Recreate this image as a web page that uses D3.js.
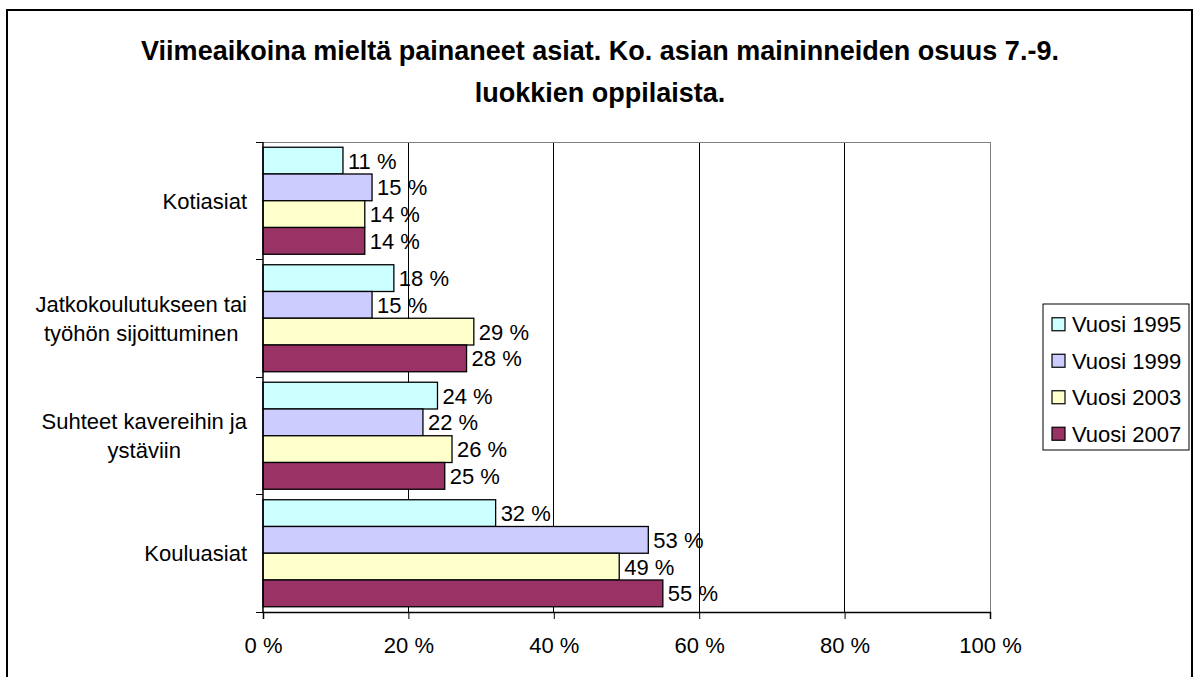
<!DOCTYPE html>
<html>
<head>
<meta charset="utf-8">
<script src="https://cdn.jsdelivr.net/npm/d3@7"></script>
<style>
  html, body { margin: 0; padding: 0; background: #fff; }
  svg { display: block; }
  text { font-family: Arial, "Liberation Sans", sans-serif; fill: #000; }
</style>
</head>
<body>
<svg id="chart" width="1196" height="677"></svg>
<script>
const titleLines = ["Viimeaikoina mieltä painaneet asiat. Ko. asian maininneiden osuus 7.-9.", "luokkien oppilaista."];
const categories = ["Kotiasiat", "Jatkokoulutukseen tai\ntyöhön sijoittuminen", "Suhteet kavereihin ja\nystäviin", "Kouluasiat"];
const seriesNames = ["Vuosi 1995", "Vuosi 1999", "Vuosi 2003", "Vuosi 2007"];
const seriesColors = ["#CCFFFF", "#CCCCFF", "#FFFFCC", "#993366"];
const v1995 = [11, 18, 24, 32];
const v1999 = [15, 15, 22, 53];
const v2003 = [14, 29, 26, 49];
const v2007 = [14, 28, 25, 55];
const xTicks = [0, 20, 40, 60, 80, 100];

const seriesValues = [v1995, v1999, v2003, v2007];
const FONT = 22;

const svg = d3.select("#chart");

// outer frame
svg.append("rect").attr("x", 7).attr("y", 10).attr("width", 1185).attr("height", 680)
  .attr("fill", "#fff").attr("stroke", "#000").attr("stroke-width", 2);

// title
svg.append("g").selectAll("text").data(titleLines).join("text")
  .attr("x", 600).attr("y", (d, i) => 60 + i * 42)
  .attr("text-anchor", "middle").attr("font-weight", "bold").attr("font-size", 27)
  .text(d => d);

const plot = { left: 263, right: 990, top: 142, bottom: 612 };

const x = d3.scaleLinear().domain([0, 100]).range([plot.left, plot.right]);
const y = d3.scaleBand().domain(categories).range([plot.top, plot.bottom]).padding(0);
const yInner = d3.scaleBand().domain(seriesNames).range([0, y.bandwidth()]).paddingInner(0).paddingOuter(0.196);

// gridlines
svg.append("g").selectAll("line").data(xTicks.filter(t => t > 0 && t < 100)).join("line")
  .attr("x1", d => x(d)).attr("x2", d => x(d))
  .attr("y1", plot.top).attr("y2", plot.bottom)
  .attr("stroke", "#000").attr("stroke-width", 1).attr("shape-rendering", "crispEdges");

// plot border (top & right gray)
svg.append("path")
  .attr("d", `M${plot.left},${plot.top}H${plot.right}V${plot.bottom}`)
  .attr("fill", "none").attr("stroke", "#808080").attr("stroke-width", 1).attr("shape-rendering", "crispEdges");

// bars
const groups = svg.append("g").selectAll("g").data(categories).join("g")
  .attr("transform", d => `translate(0,${y(d)})`);

groups.each(function(cat, ci) {
  const g = d3.select(this);
  const data = seriesNames.map((s, si) => ({ s, si, v: seriesValues[si][ci] }));
  g.selectAll("rect").data(data).join("rect")
    .attr("x", x(0)).attr("y", d => yInner(d.s))
    .attr("width", d => x(d.v) - x(0)).attr("height", yInner.bandwidth())
    .attr("fill", d => seriesColors[d.si]).attr("stroke", "#000").attr("stroke-width", 1.3);
  g.selectAll("text").data(data).join("text")
    .attr("x", d => x(d.v) + 5).attr("y", d => yInner(d.s) + yInner.bandwidth() / 2)
    .attr("dy", "0.36em").attr("font-size", FONT)
    .text(d => d.v + " %");
});

// x axis
const xAxis = d3.axisBottom(x).tickValues(xTicks).tickSize(7).tickPadding(18).tickFormat(d => d + " %");
const gx = svg.append("g").attr("transform", `translate(0,${plot.bottom})`).call(xAxis);
gx.select(".domain").attr("stroke", "#000").attr("stroke-width", 1.5);
gx.selectAll(".tick line").attr("stroke", "#000");
gx.selectAll(".tick text").attr("font-size", FONT).attr("font-family", "Arial, 'Liberation Sans', sans-serif").attr("fill", "#000");

// y axis: line + ticks at category boundaries
const boundaries = categories.map(c => y(c)).concat([plot.bottom]);
svg.append("line").attr("x1", plot.left).attr("x2", plot.left).attr("y1", plot.top).attr("y2", plot.bottom)
  .attr("stroke", "#000").attr("stroke-width", 1.5);
svg.append("g").selectAll("line").data(boundaries).join("line")
  .attr("x1", plot.left - 7).attr("x2", plot.left).attr("y1", d => d).attr("y2", d => d)
  .attr("stroke", "#000").attr("stroke-width", 1).attr("shape-rendering", "crispEdges");

// category labels (block right-aligned, lines centered within block)
const labelRight = 247;
const lineH = 29;
categories.forEach(cat => {
  const lines = cat.split("\n");
  const cy = y(cat) + y.bandwidth() / 2;
  const g = svg.append("g");
  const texts = g.selectAll("text").data(lines).join("text")
    .attr("font-size", FONT)
    .attr("y", (d, i) => cy + (i - (lines.length - 1) / 2) * lineH)
    .attr("dy", "0.36em")
    .attr("text-anchor", "middle")
    .text(d => d);
  let maxW = 0;
  texts.each(function() { maxW = Math.max(maxW, this.getComputedTextLength()); });
  texts.attr("x", labelRight - maxW / 2);
});

// legend
const leg = svg.append("g");
leg.append("rect").attr("x", 1043).attr("y", 304).attr("width", 146).attr("height", 146)
  .attr("fill", "#fff").attr("stroke", "#000").attr("stroke-width", 1);
const legY = d3.scaleBand().domain(seriesNames).range([306, 452]);
const li = leg.selectAll("g.item").data(seriesNames).join("g").attr("class", "item");
li.append("rect").attr("x", 1052).attr("y", d => legY(d) + legY.bandwidth() / 2 - 6.5)
  .attr("width", 13).attr("height", 13)
  .attr("fill", (d, i) => seriesColors[i]).attr("stroke", "#000").attr("stroke-width", 1.2);
li.append("text").attr("x", 1072).attr("y", d => legY(d) + legY.bandwidth() / 2)
  .attr("dy", "0.36em").attr("font-size", FONT).text(d => d);
</script>
</body>
</html>
